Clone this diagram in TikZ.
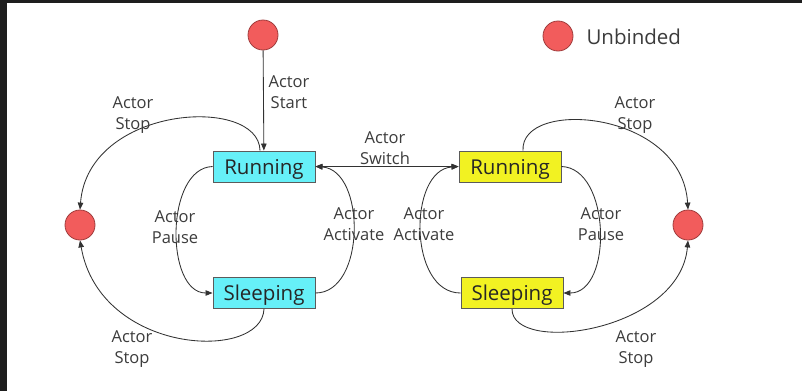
\documentclass[tikz,border=0pt]{standalone}
\usepackage{fontspec}
\setmainfont{Open Sans}
\usetikzlibrary{arrows.meta}
\definecolor{frame}{RGB}{30,30,30}
\definecolor{ink}{RGB}{50,50,50}
\definecolor{lbl}{RGB}{60,60,60}
\definecolor{runcyan}{RGB}{102,240,248}
\definecolor{runyellow}{RGB}{242,242,34}
\definecolor{unbfill}{RGB}{242,92,92}
\definecolor{unbline}{RGB}{160,60,60}
\tikzset{
  state/.style={draw=ink!80, line width=0.9pt, minimum width=102pt, minimum height=31pt,
    inner sep=0pt, text height=17pt, text depth=2pt,
    font=\fontsize{20.5}{22}\selectfont, text=black!85},
  cyanstate/.style={state, fill=runcyan},
  yellowstate/.style={state, fill=runyellow},
  unbound/.style={circle, draw=unbline, fill=unbfill, line width=0.8pt, minimum size=30pt, inner sep=0pt},
  edge/.style={draw=ink, line width=0.85pt, -{Triangle[length=7pt,width=5.5pt]}},
  tag/.style={align=center, text=lbl, font=\fontsize{16.5}{21}\selectfont, inner sep=0pt}
}
\begin{document}
\begin{tikzpicture}[x=1pt,y=-1pt]
  % canvas and dark frame strips
  \fill[white] (0,0) rectangle (802,391);
  \fill[frame] (0,0) rectangle (7,391);
  \fill[frame] (0,0) rectangle (802,2.5);
  \useasboundingbox (0,0) rectangle (802,391);

  % legend
  \node[unbound] (legend) at (558,36) {};
  \node[anchor=west, text=lbl, font=\fontsize{20.5}{22}\selectfont] (legendtxt) at (583,37) {Unbinded};

  % states
  \node[unbound] (start) at (263,35) {};
  \node[cyanstate] (lrun) at (264,166.5) {Running};
  \node[cyanstate] (lsleep) at (264,293) {Sleeping};
  \node[yellowstate] (rrun) at (510,166.5) {Running};
  \node[yellowstate] (rsleep) at (512,293) {Sleeping};
  \node[unbound] (lend) at (80,225) {};
  \node[unbound] (rend) at (688,225) {};

  % start and switch
  \draw[edge] (start) -- (lrun);
  \draw[edge, {Triangle[length=7pt,width=5.5pt]}-{Triangle[length=7pt,width=5.5pt]}] (lrun) -- (rrun);

  % pause / activate loops
  \draw[edge] (lrun.west) .. controls (165,168) and (165,293) .. (lsleep.west);
  \draw[edge] (lsleep.east) .. controls (366,293) and (366,170) .. (lrun.east);
  \draw[edge] (rsleep.west) .. controls (408,293) and (408,170) .. (rrun.west);
  \draw[edge] (rrun.east) .. controls (611,168) and (613,293) .. (rsleep.east);

  % stop transitions
  \draw[edge] ([xshift=-4pt]lrun.north) .. controls (259,95) and (88,105) .. (lend.north);
  \draw[edge] (lsleep.south) .. controls (262,362) and (100,355) .. (lend.south);
  \draw[edge] ([xshift=13pt]rrun.north) .. controls (520,98) and (682,110) .. (rend.north);
  \draw[edge] (rsleep.south) .. controls (512,355) and (680,332) .. (rend.south);

  % labels
  \node[tag] (tstart) at (289,92) {Actor\\Start};
  \node[tag] (tswitch) at (385,148) {Actor\\Switch};
  \node[tag] (tstoplt) at (133,115) {Actor\\Stop};
  \node[tag] (tstoplb) at (132,349) {Actor\\Stop};
  \node[tag] (tstoprt) at (635,115) {Actor\\Stop};
  \node[tag] (tstoprb) at (636,349) {Actor\\Stop};
  \node[tag] (tpausel) at (175,227) {Actor\\Pause};
  \node[tag] (tpauser) at (601,224) {Actor\\Pause};
  \node[tag] (tactl) at (354,224) {Actor\\Activate};
  \node[tag] (tactr) at (424,224) {Actor\\Activate};
\end{tikzpicture}
\end{document}
